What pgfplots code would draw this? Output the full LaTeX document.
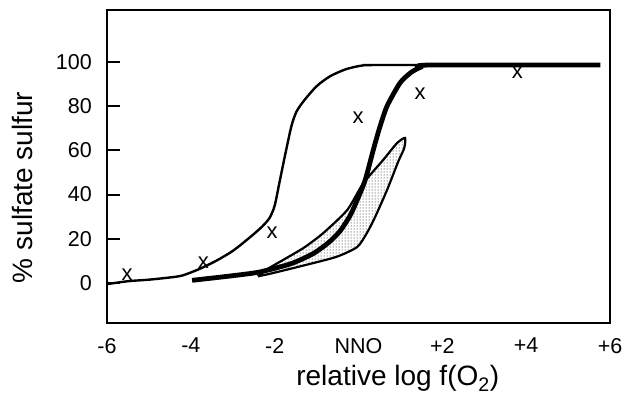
\documentclass[border=0pt]{standalone}
\usepackage{pgfplots}
\pgfplotsset{compat=1.18}
\usepackage{fontspec}
\setmainfont{Liberation Sans}
\usetikzlibrary{patterns}
\begin{document}
\begin{tikzpicture}
\begin{axis}[
  scale only axis, width=503pt, height=313pt,
  xmin=-6, xmax=6, ymin=-18.1, ymax=123.5,
  axis line style={line width=2.4pt},
  xtick=\empty,
  ytick={0,20,40,60,80,100},
  tick style={line width=2pt, black},
  ytick pos=left,
  tick align=inside,
  major tick length=13pt,
  tick label style={font=\fontsize{21.5}{24}\selectfont},
  /pgf/number format/assume math mode=true,
  yticklabel style={anchor=east, inner sep=0pt, xshift=-15pt},
  xlabel={relative log f(O\textsubscript{2})},
  ylabel={\% sulfate sulfur},
  label style={font=\fontsize{28}{32}\selectfont, inner sep=0pt},
  xlabel style={at={(axis description cs:0.578,0)}, anchor=base, yshift=-63pt},
  ylabel style={at={(axis description cs:0,0.433)}, anchor=base, yshift=74pt},
  clip=false,
]
% shaded field
\addplot[line width=2.2pt, draw=black, pattern=dots, smooth, tension=0.4] coordinates {
(-2.4,3.0) (-2.2,6) (-1.8,10.4) (-1.3,16) (-0.84,22.6) (-0.27,33) (0.11,45)
(0.59,55.7) (0.92,63.3) (1.11,65.6) (1.09,61) (0.95,55) (0.68,42) (0.4,30)
(0.2,22.6) (-0.03,16.3) (-0.5,12) (-1.08,9) (-2.04,4.5) (-2.4,3.0)
};
% thin curve
\addplot[line width=2.4pt, black, smooth, tension=0.45] coordinates {
(-6,-0.5) (-5.5,0.8) (-5,1.5) (-4.5,2.5) (-4.2,3.4) (-3.8,6.3) (-3.4,10)
(-3.0,14.5) (-2.6,20.5) (-2.3,25.5) (-2.12,29.5) (-2.0,35) (-1.88,46) (-1.75,58)
(-1.6,71) (-1.48,77.5) (-1.3,82.5) (-1.0,89) (-0.68,93.5) (-0.3,96.7) (0.1,98.4)
(0.6,98.6) (5.75,98.6)
};
% thick curve
\addplot[line width=4.8pt, black, smooth, tension=0.4] coordinates {
(-3.97,1.2) (-3.0,3.3) (-2.35,5.0) (-1.6,8.8) (-1.08,13.3) (-0.7,18.5) (-0.44,23.5)
(-0.2,30.5) (-0.03,37.6) (0.16,46.6) (0.35,60) (0.5,70) (0.68,80) (0.99,90.5)
(1.25,95.2) (1.47,97.5) (1.71,98.6) (5.77,98.6)
};
% data points
\addplot[only marks, mark=text, text mark={\fontsize{22}{24}\selectfont x}] coordinates {
(-5.52,3.6) (-3.7,9) (-2.06,22.6) (-0.01,74.7) (1.47,85.5) (3.79,95)
};
% x tick labels
\foreach \xv/\lab in {-6/-6,-4/-4,-2/-2,0/NNO,2/+2,4/+4,6/+6}{
  \edef\tmp{\noexpand\node[anchor=north, inner sep=0pt, yshift=-15pt, font=\noexpand\fontsize{21.5}{24}\noexpand\selectfont] at (axis cs:\xv,-18.1) {\lab};}
  \tmp
}
\end{axis}
\path (current axis.south west) ++(-107pt,-80pt) rectangle ++(628pt,403pt);
\end{tikzpicture}
\end{document}
